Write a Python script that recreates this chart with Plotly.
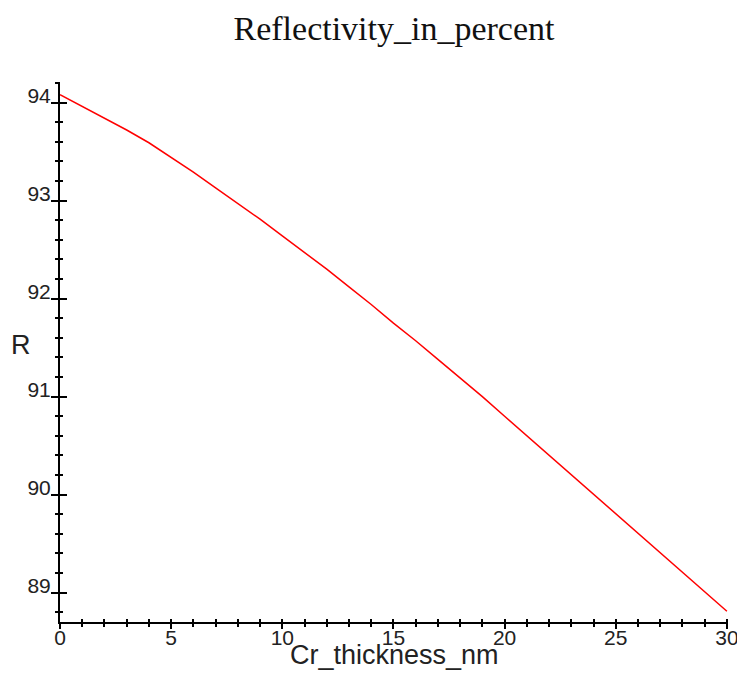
import plotly.graph_objects as go

thickness_nm = list(range(0, 31))
reflectivity = [94.08, 93.96, 93.84, 93.72, 93.59, 93.44, 93.29, 93.13, 92.97, 92.81,
                92.64, 92.47, 92.30, 92.12, 91.94, 91.75, 91.57, 91.38, 91.19, 91.00,
                90.80, 90.60, 90.40, 90.20, 90.00, 89.80, 89.61, 89.41, 89.21, 89.01,
                88.81]
x_ticks = [0, 5, 10, 15, 20, 25, 30]
y_ticks = [89, 90, 91, 92, 93, 94]

XR = [0, 30.05]
YR = [88.70, 94.21]

fig = go.Figure()
fig.add_trace(go.Scatter(x=thickness_nm, y=reflectivity, mode="lines",
                         line=dict(color="#ff0000", width=1.5), showlegend=False,
                         hoverinfo="skip"))
# invisible trace to anchor the overlay axes (used for crossing ticks)
fig.add_trace(go.Scatter(x=[thickness_nm[0]], y=[reflectivity[0]], xaxis="x2", yaxis="y2",
                         mode="markers", marker=dict(opacity=0), showlegend=False,
                         hoverinfo="skip"))

# page body has an 8px default margin, so the figure is sized to fit the window
W, H = 737, 665
tickfont = dict(family="Liberation Sans", size=21, color="#222")
fig.update_layout(
    width=W, height=H,
    margin=dict(l=52, r=17, t=74, b=51),
    paper_bgcolor="white", plot_bgcolor="white",
    title=dict(text="Reflectivity_in_percent", x=386 / W, xanchor="center",
               y=1 - 20 / H, yanchor="middle",
               font=dict(family="Liberation Serif", size=34, color="#111")),
    xaxis=dict(range=XR, tickmode="array", tickvals=x_ticks,
               ticktext=[str(v) for v in x_ticks], automargin=False,
               showgrid=False, zeroline=False, showline=True, linecolor="black",
               linewidth=2, ticks="outside", ticklen=5, tickwidth=2, tickcolor="black",
               minor=dict(dtick=1, ticks="outside", ticklen=3, tickwidth=2,
                          tickcolor="black", showgrid=False),
               tickfont=tickfont, ticklabelstandoff=-9),
    yaxis=dict(range=YR, tickmode="array", tickvals=y_ticks,
               ticktext=[str(v) for v in y_ticks], automargin=False,
               showgrid=False, zeroline=False, showline=True, linecolor="black",
               linewidth=2, ticks="outside", ticklen=7, tickwidth=2, tickcolor="black",
               minor=dict(dtick=0.2, ticks="outside", ticklen=3, tickwidth=2,
                          tickcolor="black", showgrid=False),
               tickfont=tickfont, ticklabelstandoff=-4, ticklabelshift=-7),
    xaxis2=dict(range=XR, overlaying="x", side="bottom", tickmode="array",
                tickvals=x_ticks, showticklabels=False, showgrid=False, automargin=False,
                zeroline=False, showline=False, ticks="inside", ticklen=3,
                tickwidth=2, tickcolor="black",
                minor=dict(dtick=1, ticks="inside", ticklen=3, tickwidth=2,
                           tickcolor="black", showgrid=False)),
    yaxis2=dict(range=YR, overlaying="y", side="left", tickmode="array",
                tickvals=y_ticks, showticklabels=False, showgrid=False, automargin=False,
                zeroline=False, showline=False, ticks="inside", ticklen=7,
                tickwidth=2, tickcolor="black",
                minor=dict(dtick=0.2, ticks="inside", ticklen=3, tickwidth=2,
                           tickcolor="black", showgrid=False)),
    annotations=[
        dict(text="Cr_thickness_nm", xref="paper", yref="paper", x=0.5, y=-33 / 540,
             xanchor="center", yanchor="middle", showarrow=False,
             font=dict(family="Liberation Sans", size=27, color="#222")),
        dict(text="R", xref="paper", yref="paper", x=-39 / 668, y=(622 - 345) / 540,
             xanchor="center", yanchor="middle", showarrow=False,
             font=dict(family="Liberation Sans", size=27, color="#222")),
    ],
)

fig.write_html("out.html")
